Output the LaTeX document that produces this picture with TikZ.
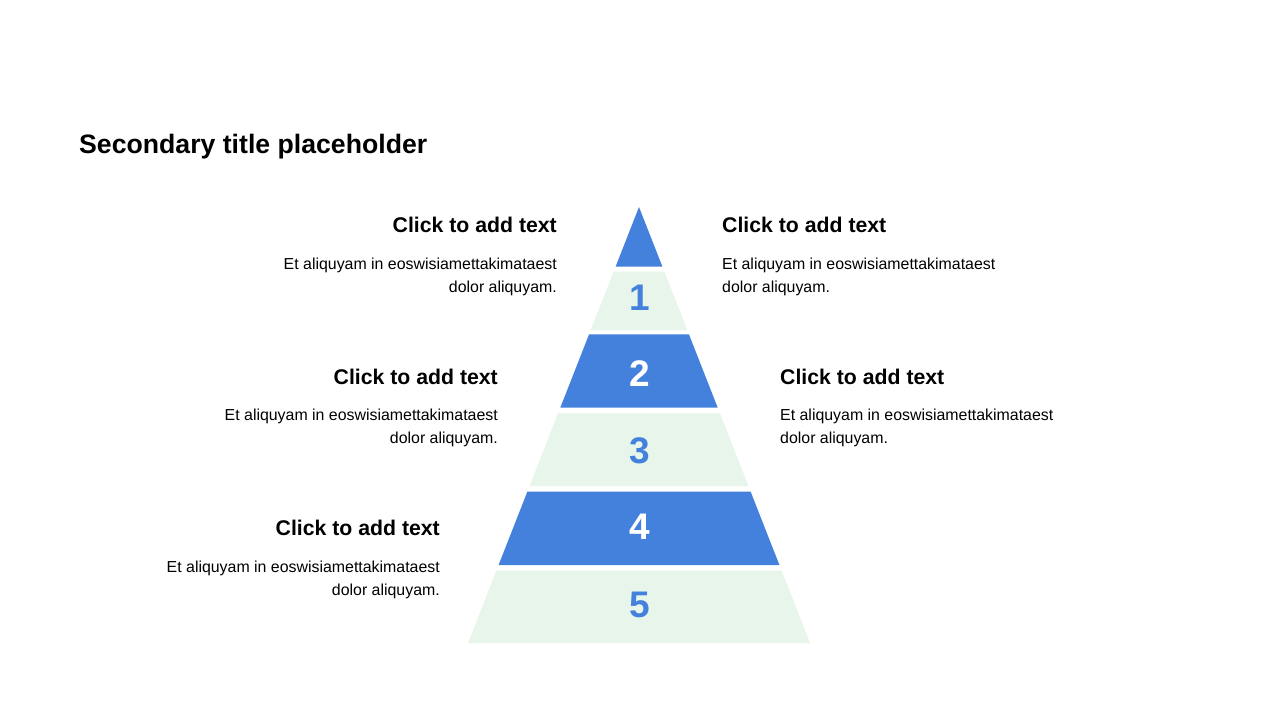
\documentclass[tikz,border=0pt]{standalone}
\usepackage{fontspec}
\setmainfont{Liberation Sans}
\definecolor{pyrblue}{HTML}{4481DD}
\definecolor{pyrgreen}{HTML}{E7F5EB}
\newcommand{\pyrband}[3]{\fill[#3] ({639-(#1-207)*0.3922},#1) -- ({639+(#1-207)*0.3922},#1) -- ({639+(#2-207)*0.3922},#2) -- ({639-(#2-207)*0.3922},#2) -- cycle;}
\tikzset{
  titletext/.style={font=\fontsize{26.65}{30}\selectfont\bfseries, inner sep=0pt, anchor=base west},
  headtext/.style={font=\fontsize{21.25}{25}\selectfont\bfseries, inner sep=0pt},
  bodytext/.style={font=\fontsize{15.9}{19}\selectfont, inner sep=0pt},
  numtext/.style={font=\fontsize{37}{40}\selectfont\bfseries, inner sep=0pt},
}
\begin{document}
\begin{tikzpicture}[x=1pt,y=-1pt]
\useasboundingbox[fill=white] (0,0) rectangle (1280,720);
% title
\node[titletext] (title) at (79,153.5) {Secondary title placeholder};
% pyramid
\fill[pyrblue] (639,207) -- ({639+(266.7-207)*0.3922},266.7) -- ({639-(266.7-207)*0.3922},266.7) -- cycle;
\pyrband{271.7}{330}{pyrgreen}
\pyrband{334.3}{407.7}{pyrblue}
\pyrband{413.3}{486}{pyrgreen}
\pyrband{491.7}{565}{pyrblue}
\pyrband{570.7}{643}{pyrgreen}
% numbers
\node[numtext, text=pyrblue] (n1) at (639.5,298) {1};
\node[numtext, text=white] (n2) at (639.5,374) {2};
\node[numtext, text=pyrblue] (n3) at (639.5,451) {3};
\node[numtext, text=white] (n4) at (639.5,527) {4};
\node[numtext, text=pyrblue] (n5) at (639.5,605) {5};
% left blocks
\node[headtext, anchor=base east] (hl1) at (557,232.5) {Click to add text};
\node[bodytext, anchor=base east] (bl1a) at (557,269) {Et aliquyam in eoswisiamettakimataest};
\node[bodytext, anchor=base east] (bl1b) at (557,292.3) {dolor aliquyam.};
\node[headtext, anchor=base east] (hl2) at (498,384) {Click to add text};
\node[bodytext, anchor=base east] (bl2a) at (498,420.5) {Et aliquyam in eoswisiamettakimataest};
\node[bodytext, anchor=base east] (bl2b) at (498,443.8) {dolor aliquyam.};
\node[headtext, anchor=base east] (hl3) at (440,535.5) {Click to add text};
\node[bodytext, anchor=base east] (bl3a) at (440,572) {Et aliquyam in eoswisiamettakimataest};
\node[bodytext, anchor=base east] (bl3b) at (440,595.3) {dolor aliquyam.};
% right blocks
\node[headtext, anchor=base west] (hr1) at (722,232.5) {Click to add text};
\node[bodytext, anchor=base west] (br1a) at (722,269) {Et aliquyam in eoswisiamettakimataest};
\node[bodytext, anchor=base west] (br1b) at (722,292.3) {dolor aliquyam.};
\node[headtext, anchor=base west] (hr2) at (780,384) {Click to add text};
\node[bodytext, anchor=base west] (br2a) at (780,420.5) {Et aliquyam in eoswisiamettakimataest};
\node[bodytext, anchor=base west] (br2b) at (780,443.8) {dolor aliquyam.};
\end{tikzpicture}
\end{document}
